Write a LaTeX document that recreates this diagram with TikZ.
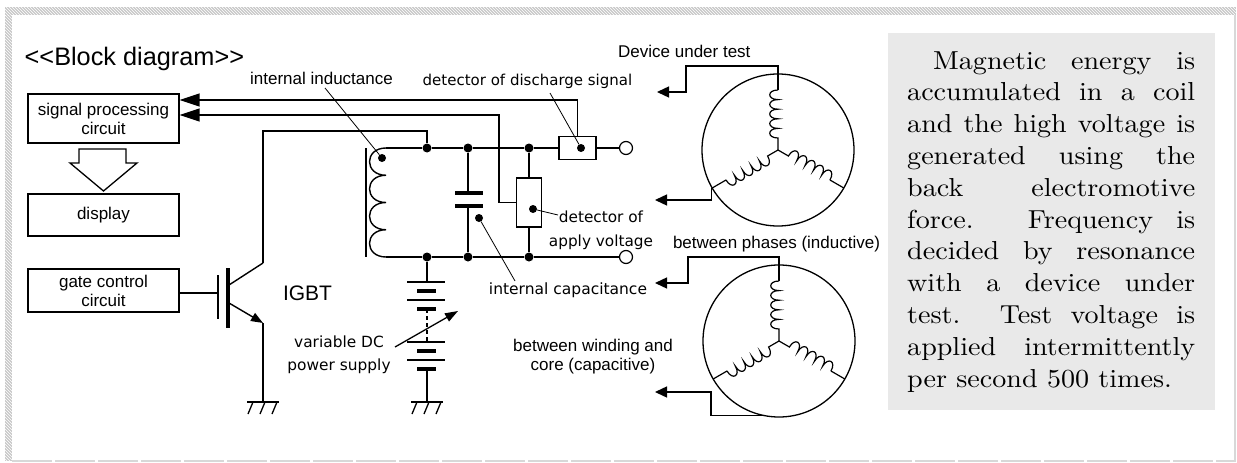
\documentclass[tikz,border=0pt]{standalone}
\usepackage{fontspec}
\setmainfont{Liberation Sans}
\newfontfamily\gothfam{DejaVu Sans}
\newfontfamily\rtextfam{lmroman10-regular.otf}[FakeStretch=1.08]
\usetikzlibrary{arrows.meta,patterns}
\newcommand\labfont{\fontsize{17}{19}\selectfont}
\definecolor{textbg}{HTML}{E9E9E9}
\definecolor{framegray}{HTML}{C8C8C8}
\definecolor{framelight}{HTML}{D8D8D8}
\tikzset{
  wire/.style={line width=1.4pt},
  blk/.style={draw, line width=1.3pt, minimum width=151pt, inner sep=0pt, align=center, font=\labfont},
  dbox/.style={draw, fill=white, line width=1.3pt, inner sep=0pt},
  jdot/.style={circle, fill, inner sep=0pt, minimum size=9pt},
  sdot/.style={circle, fill, inner sep=0pt, minimum size=8pt},
  term/.style={circle, draw, fill=white, inner sep=0pt, minimum size=13pt, line width=1.2pt},
  sig/.style={wire, -{Triangle[length=20pt,width=13pt]}},
  dut/.style={wire, -{Triangle[length=12pt,width=11pt]}},
  lead/.style={line width=0.8pt},
  motor/.style={circle, draw, line width=1.3pt, minimum size=152pt, inner sep=0pt},
  plate/.style={line width=4pt},
  lplate/.style={line width=2pt},
  wind/.pic={
    \draw[line width=1.2pt] (0,0) -- (12,0)
      \foreach \k in {0,...,4}{ .. controls ({12+9.6*\k},-11) and ({21.6+9.6*\k},-11) .. ({21.6+9.6*\k},0)};
    \draw[line width=1.2pt] (60,0) -- (#1,0);
  },
  gndsym/.pic={
    \draw[line width=1.4pt] (-16,0) -- (16,0);
    \foreach \x in {-10,2,14} \draw[line width=1.3pt] (\x,0) -- ++(-5,12);
  }
}
\begin{document}
\begin{tikzpicture}[x=1pt,y=-1pt]
\useasboundingbox (0,0) rectangle (1237,463);
% frame
\fill[framegray] (5,7) rectangle (1236,15);
\fill[framegray] (5,7) rectangle (12,461);
\fill[pattern=north west lines, pattern color=white] (5,7) rectangle (1236,15);
\fill[pattern=north west lines, pattern color=white] (5,15) rectangle (12,461);
\draw[framelight, line width=1.5pt, dash pattern=on 40pt off 3pt] (12,461) -- (1236,461);
\draw[framelight, line width=1.2pt] (1235,15) -- (1235,461);

% explanation text
\fill[textbg] (888,33) rectangle (1215,410);
\node[anchor=base west, inner sep=0pt] (txt) at (907,69) {\parbox[t]{288pt}{\rtextfam\fontsize{26}{31.8}\selectfont
\makebox[288pt][s]{\hspace*{26pt}Magnetic energy is}\\
\makebox[288pt][s]{accumulated in a coil}\\
\makebox[288pt][s]{and the high voltage is}\\
\makebox[288pt][s]{generated using the}\\
\makebox[288pt][s]{back electromotive}\\
\makebox[288pt][s]{force. Frequency is}\\
\makebox[288pt][s]{decided by resonance}\\
\makebox[288pt][s]{with a device under}\\
\makebox[288pt][s]{test. Test voltage is}\\
\makebox[288pt][s]{applied intermittently}\\
per second 500 times.}};

% block diagram
\node[anchor=base west, inner sep=0pt, font=\fontsize{25.3}{30}\selectfont] (title) at (24.5,65) {<\kern0pt<Block diagram>\kern0pt>};
\node[blk, minimum height=49pt] (sp) at (103.5,118.5) {signal processing\\circuit};
\node[blk, minimum height=42pt] (disp) at (103.5,215) {display};
\node[blk, minimum height=43pt] (gc) at (103.5,290.5) {gate control\\circuit};
\draw[line width=1.3pt] (79,149) -- (126,149) -- (126,163) -- (137,163) -- (103.5,191) -- (70,163) -- (79,163) -- cycle;

% circuit nodes
\coordinate (ct) at (386,148);
\coordinate (cb) at (386,257);
\node[jdot] (j1) at (427,148) {};
\node[jdot] (j2) at (468,148) {};
\node[jdot] (j3) at (529,148) {};
\node[jdot] (j4) at (427,257) {};
\node[jdot] (j5) at (468,257) {};
\node[jdot] (j6) at (529,257) {};
\node[term] (t1) at (626,148) {};
\node[term] (t2) at (626,257) {};

% wires
\draw[wire] (ct) -- (j1) -- (j2) -- (j3) -- (587,148) -- (t1);
\draw[wire] (cb) -- (j4) -- (j5) -- (j6) -- (t2);
\draw[wire] (j3) -- (529,230) -- (j6);
\node[dbox, minimum width=37pt, minimum height=23pt] (dd) at (577.5,148) {};
\node[dbox, minimum width=25pt, minimum height=49pt] (dav) at (529,202.5) {};
\node[sdot] (ddot) at (581,148) {};
\node[sdot] (avdot) at (533,209) {};

% coil and core
\draw[wire] (ct) .. controls (364,148) and (364,175.25) .. (386,175.25)
  .. controls (364,175.25) and (364,202.5) .. (386,202.5)
  .. controls (364,202.5) and (364,229.75) .. (386,229.75)
  .. controls (364,229.75) and (364,257) .. (cb);
\draw[line width=1.6pt] (366,148) -- (366,257);
\node[sdot] (ldot) at (382,158) {};

% capacitor
\coordinate (ca) at (468,193);
\coordinate (cbt) at (468,206);
\draw[wire] (j2) -- (ca);
\draw[wire] (cbt) -- (j5);
\draw[plate] (455,193) -- (483,193);
\draw[plate] (455,206) -- (483,206);
\node[sdot] (cdot) at (479,218) {};

% IGBT
\coordinate (gate) at (218,293);
\coordinate (igc) at (263,263);
\coordinate (ige) at (263,323);
\draw[wire] ([yshift=-2.5pt]gc.east) -- (gate);
\draw[wire] (218,275) -- (218,319);
\draw[line width=4pt] (228,268) -- (228,328);
\draw[wire] (229,285) -- (igc);
\draw[wire, -{Triangle[length=12pt,width=9pt]}] (229,303) -- (ige);
\draw[wire] (igc) -- (263,131) -| (j1);
\draw[wire] (ige) -- (263,402) pic {gndsym};

% battery
\draw[wire] (j4) -- (427,282);
\foreach \y in {282,300,342,360} \draw[lplate] (407,\y) -- (445,\y);
\foreach \y in {291,309,351,369} \draw[plate] (417,\y) -- (436,\y);
\draw[line width=1.2pt, dash pattern=on 4pt off 3pt] (427,309) -- (427,342);
\draw[wire] (427,369) -- (427,402) pic {gndsym};
\draw[line width=1.3pt, -{Triangle[length=13pt,width=9pt]}] (395,347) -- (458,311);

% signal lines
\draw[sig] (dd.north) |- ([yshift=18.5pt]sp.east);
\draw[sig] (dav.west) -| (499,115) -- ([yshift=3.5pt]sp.east);

% leaders
\draw[lead] (325,88) -- (ldot);
\draw[lead] (550,93) -- (ddot);
\draw[lead] (avdot) -- (558,215);
\draw[lead] (cdot) -- (515,281);

% motors
\node[motor] (m1) at (778,150) {};
\node[motor] (m2) at (779,341) {};
\path (m1.center) pic[rotate=90] {wind=60};
\path (m1.center) pic[rotate=210] {wind=76};
\path (m1.center) pic[rotate=330] {wind=76};
\path (m2.center) pic[rotate=90] {wind=60};
\path (m2.center) pic[rotate=210] {wind=76};
\path (m2.center) pic[rotate=330] {wind=76};
\coordinate (m1t) at ([yshift=60pt]m1.center);
\coordinate (m2t) at ([yshift=60pt]m2.center);
\draw[dut] (m1t) |- (686,66) |- (657,92);
\draw[dut] (m1.210) |- (655,200);
\draw[dut] (m2t) |- (688,257) |- (655,283);
\draw[dut] (m2.257) -| (711,392) -- (655,392);

% labels
\node[anchor=base, inner sep=0pt, font=\labfont] (lind) at (321.5,84.5) {internal inductance};
\node[anchor=base, inner sep=0pt, font=\gothfam\fontsize{15}{18}\selectfont] (ldd) at (527.5,85) {detector of discharge signal};
\node[anchor=base west, inner sep=0pt, font=\labfont] (ldut) at (618,57) {Device under test};
\node[anchor=base, inner sep=0pt, font=\labfont] (lph) at (776.5,248) {between phases (inductive)};
\node[anchor=base, inner sep=0pt, font=\gothfam\fontsize{15.5}{18}\selectfont] (lcap) at (568,294) {internal capacitance};
\node[align=center, inner sep=0pt, font=\gothfam\fontsize{15.3}{24}\selectfont] (lav) at (601,230) {detector of\\apply voltage};
\node[align=center, inner sep=0pt, font=\labfont] (lwc) at (593,356.5) {between winding and\\core (capacitive)};
\node[align=center, inner sep=0pt, font=\gothfam\fontsize{15.4}{23}\selectfont] (lvdc) at (339,354.5) {variable DC\\power supply};
\node[anchor=base, inner sep=0pt, font=\fontsize{21}{24}\selectfont] (ligbt) at (307.5,300.5) {IGBT};
\end{tikzpicture}
\end{document}
